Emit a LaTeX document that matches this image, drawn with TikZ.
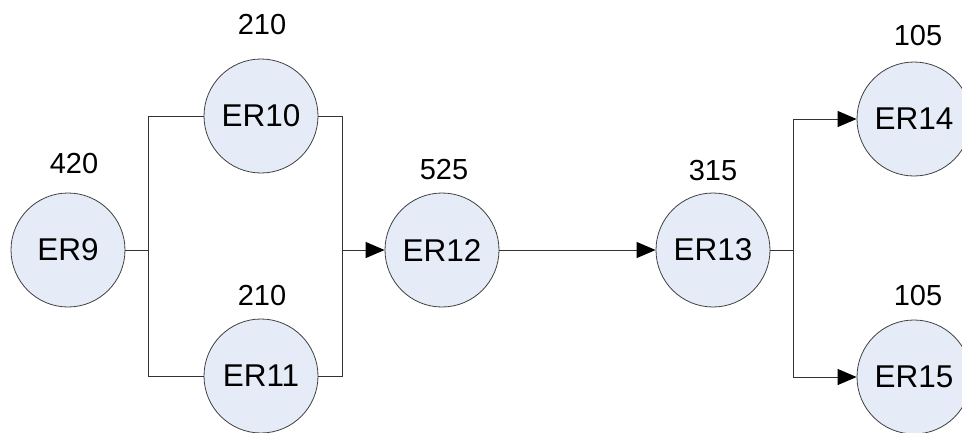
\documentclass[tikz,border=0pt]{standalone}
\usepackage{fontspec}
\setmainfont{Liberation Sans}
\usepackage{xcolor}
\usetikzlibrary{arrows.meta, positioning}
\definecolor{erfill}{RGB}{230,236,247}
\newcommand{\erfont}{\fontsize{31.5}{36}\selectfont}
\newcommand{\wfont}{\fontsize{29}{34}\selectfont}

\begin{document}
\begin{tikzpicture}[
            x=1pt, y=-1pt,
            er/.style={circle, draw=black!75, fill=erfill, line width=0.8pt,
                minimum size=114pt, inner sep=0pt, font=\erfont},
            weight/.style={inner sep=0pt, font=\wfont},
            wire/.style={draw=black!80, line width=1pt},
            flow/.style={wire, -{Triangle[length=19pt, width=16pt, color=black]}}
        ]
        \useasboundingbox (0,0) rectangle (962,432);

        % relays
        \node[er] (er9)  at (68,250)  {ER9};
        \node[er] (er10) at (261,116) {ER10};
        \node[er] (er11) at (261,376) {ER11};
        \node[er] (er12) at (442,250) {ER12};
        \node[er] (er13) at (713,250) {ER13};
        \node[er] (er14) at (914,119) {ER14};
        \node[er] (er15) at (914,377) {ER15};

        % weights
        \node[weight] (w9)  at (74,164)  {420};
        \node[weight] (w10) at (262,25)  {210};
        \node[weight] (w11) at (262,296) {210};
        \node[weight] (w12) at (444,170) {525};
        \node[weight] (w13) at (713,171) {315};
        \node[weight] (w14) at (918,36)  {105};
        \node[weight] (w15) at (918,296) {105};

        % junctions
        \coordinate (j1) at (148,250);
        \coordinate (j2) at (342,250);
        \coordinate (j3) at (793,250);

        \draw[wire] (er9) -- (j1);
        \foreach \To in {er10, er11}
            \draw[wire] (j1) |- (\To);
        \foreach \From in {er10, er11}
            \draw[wire] (\From) -| (j2);
        \draw[flow] (j2) -- (er12);
        \draw[flow] (er12) -- (er13);
        \draw[wire] (er13) -- (j3);
        \foreach \To in {er14, er15}
            \draw[flow] (j3) |- (\To);
    \end{tikzpicture}
\end{document}
